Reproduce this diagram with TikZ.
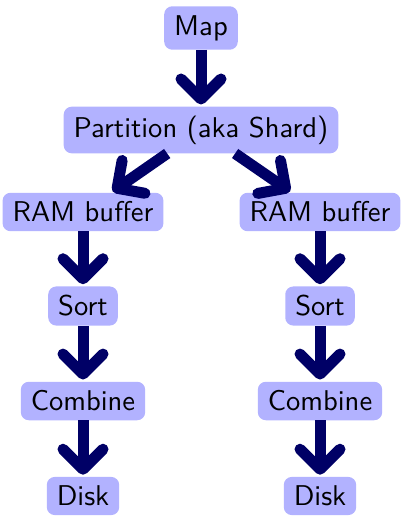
\documentclass[tikz,border=0pt]{standalone}
\usepackage{fontspec}
\usetikzlibrary{arrows.meta}
% Latin Modern Sans, 10pt design size used at every size
\newfontfamily\stagefont{lmsans10-regular.otf}
\definecolor{boxfill}{RGB}{178,178,255}
\definecolor{arrowcol}{RGB}{0,0,102}
\begin{document}
\begin{tikzpicture}[x=1pt,y=-1pt,
  stage/.style={fill=boxfill, rounded corners=8pt, inner xsep=10pt, inner ysep=9pt,
    font=\stagefont\fontsize{28.6}{32}\selectfont, text=black},
  flow/.style={draw=arrowcol, line width=11pt,
    -{Straight Barb[round, length=20pt, width=40pt]}, shorten >=2pt}]
  \useasboundingbox (0,0) rectangle (401,516);
  \node[stage] (map) at (201,28) {Map};
  \node[stage] (part) at (201,130) {Partition (aka Shard)};
  \node[stage] (ramL) at (83,212) {RAM buffer};
  \node[stage] (ramR) at (320,212) {RAM buffer};
  \node[stage] (sortL) at (83,306) {Sort};
  \node[stage] (sortR) at (320,306) {Sort};
  \node[stage] (combL) at (83,401) {Combine};
  \node[stage] (combR) at (320,401) {Combine};
  \node[stage] (diskL) at (83,496) {Disk};
  \node[stage] (diskR) at (320,496) {Disk};
  \draw[flow] (map) -- (part);
  \draw[flow] (part) -- (ramL);
  \draw[flow] (part) -- (ramR);
  \draw[flow] (ramL) -- (sortL);
  \draw[flow] (ramR) -- (sortR);
  \draw[flow] (sortL) -- (combL);
  \draw[flow] (sortR) -- (combR);
  \draw[flow] (combL) -- (diskL);
  \draw[flow] (combR) -- (diskR);
\end{tikzpicture}
\end{document}
